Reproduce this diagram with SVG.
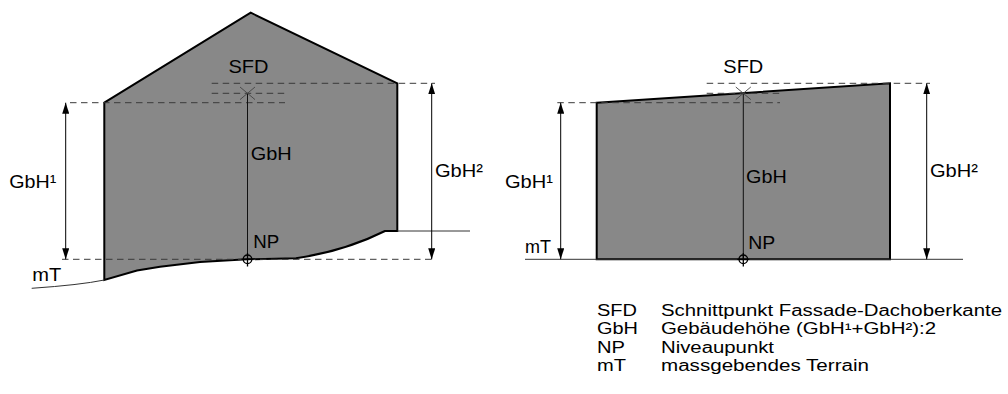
<svg xmlns="http://www.w3.org/2000/svg" width="1008" height="394" viewBox="0 0 1008 394">
<style>
.bld{fill:#888888;stroke:#000;stroke-width:2;stroke-linejoin:miter}
.terr{fill:none;stroke:#333;stroke-width:1}
.dash{fill:none;stroke:#3a3a3a;stroke-width:1;stroke-dasharray:6.5 4.5}
.dim{fill:none;stroke:#000;stroke-width:1}
.axis{fill:none;stroke:#111;stroke-width:1}
.cross{fill:none;stroke:#444;stroke-width:0.9}
.np{fill:none;stroke:#000;stroke-width:1.3}
text{font-family:"Liberation Sans",Arial,sans-serif;font-size:19px;fill:#000}
#legend text{font-size:16px}
</style>
<defs>
<marker id="arr" markerUnits="userSpaceOnUse" markerWidth="11" markerHeight="7" refX="11" refY="3.5" orient="auto-start-reverse">
<path d="M0,0 L11,3.5 L0,7 Z" fill="#000"/>
</marker>
</defs>

<g id="building-left">
<path class="bld" d="M104.3,102.7 L250.7,12.7 L397.3,83.3 L397.3,231 L385,231 Q345,251 296,258.3 L247,259.3 L200,262 L160,266.7 L137,270.5 L104.3,280 Z"/>
<path class="terr" d="M397.3,231 H470"/>
<path class="terr" d="M104.3,280 Q80,285 31.7,288.3"/>
</g>

<g id="building-right">
<path class="bld" d="M596.7,102.7 L890,83.3 L890,259.3 L596.7,259.3 Z"/>
<path class="terr" d="M525,259.3 H963"/>
</g>

<g id="connectors">
<path class="dash" d="M70,102.7 H285 M211.7,83.3 H435 M211.7,93.3 H285 M62,259.3 H435"/>
<path class="dim" d="M65.7,102.7 V259.3" marker-start="url(#arr)" marker-end="url(#arr)"/>
<path class="dim" d="M431.7,83.3 V259.3" marker-start="url(#arr)" marker-end="url(#arr)"/>
<path class="axis" d="M247.5,93.3 V259.3"/>
<path class="cross" d="M240,87 L255,99.6 M240,99.6 L255,87"/>
<circle class="np" cx="247.5" cy="259.3" r="4.3"/>
<path class="np" d="M247.5,253 V266.5 M241.5,259.3 H253.5"/>

<path class="dash" d="M557.3,102.7 H780 M706.7,83.3 H930 M706.7,93.3 H780"/>
<path class="dim" d="M560.7,102.7 V259.3" marker-start="url(#arr)" marker-end="url(#arr)"/>
<path class="dim" d="M926.7,83.3 V259.3" marker-start="url(#arr)" marker-end="url(#arr)"/>
<path class="axis" d="M743.3,93.3 V259.3"/>
<path class="cross" d="M735.8,87 L750.8,99.6 M735.8,99.6 L750.8,87"/>
<circle class="np" cx="743.3" cy="259.3" r="4.3"/>
<path class="np" d="M743.3,253 V266.5 M737.3,259.3 H749.3"/>
</g>

<g id="labels-left">
<text x="228.5" y="73" textLength="40" lengthAdjust="spacingAndGlyphs">SFD</text>
<text x="250.7" y="160" textLength="41" lengthAdjust="spacingAndGlyphs">GbH</text>
<text x="9.3" y="188.3" textLength="47" lengthAdjust="spacingAndGlyphs">GbH¹</text>
<text x="435" y="176.7" textLength="48" lengthAdjust="spacingAndGlyphs">GbH²</text>
<text x="253.3" y="248.3" textLength="26" lengthAdjust="spacingAndGlyphs">NP</text>
<text x="32.3" y="281" textLength="29" lengthAdjust="spacingAndGlyphs">mT</text>
</g>

<g id="labels-right">
<text x="723.3" y="73.3" textLength="40" lengthAdjust="spacingAndGlyphs">SFD</text>
<text x="746" y="183.3" textLength="40.7" lengthAdjust="spacingAndGlyphs">GbH</text>
<text x="505" y="188.3" textLength="48" lengthAdjust="spacingAndGlyphs">GbH¹</text>
<text x="930" y="177.3" textLength="48" lengthAdjust="spacingAndGlyphs">GbH²</text>
<text x="748.3" y="249.3" textLength="27" lengthAdjust="spacingAndGlyphs">NP</text>
<text x="525" y="253.3" textLength="26" lengthAdjust="spacingAndGlyphs">mT</text>
</g>

<g id="legend">
<text x="597" y="316" textLength="40" lengthAdjust="spacingAndGlyphs">SFD</text>
<text x="661" y="316" textLength="341" lengthAdjust="spacingAndGlyphs">Schnittpunkt Fassade-Dachoberkante</text>
<text x="597" y="334.3" textLength="41" lengthAdjust="spacingAndGlyphs">GbH</text>
<text x="661" y="334.3" textLength="275" lengthAdjust="spacingAndGlyphs">Gebäudehöhe (GbH¹+GbH²):2</text>
<text x="597" y="352.7" textLength="28" lengthAdjust="spacingAndGlyphs">NP</text>
<text x="661" y="352.7" textLength="113" lengthAdjust="spacingAndGlyphs">Niveaupunkt</text>
<text x="597" y="371" textLength="29" lengthAdjust="spacingAndGlyphs">mT</text>
<text x="661" y="371" textLength="208" lengthAdjust="spacingAndGlyphs">massgebendes Terrain</text>
</g>
</svg>
